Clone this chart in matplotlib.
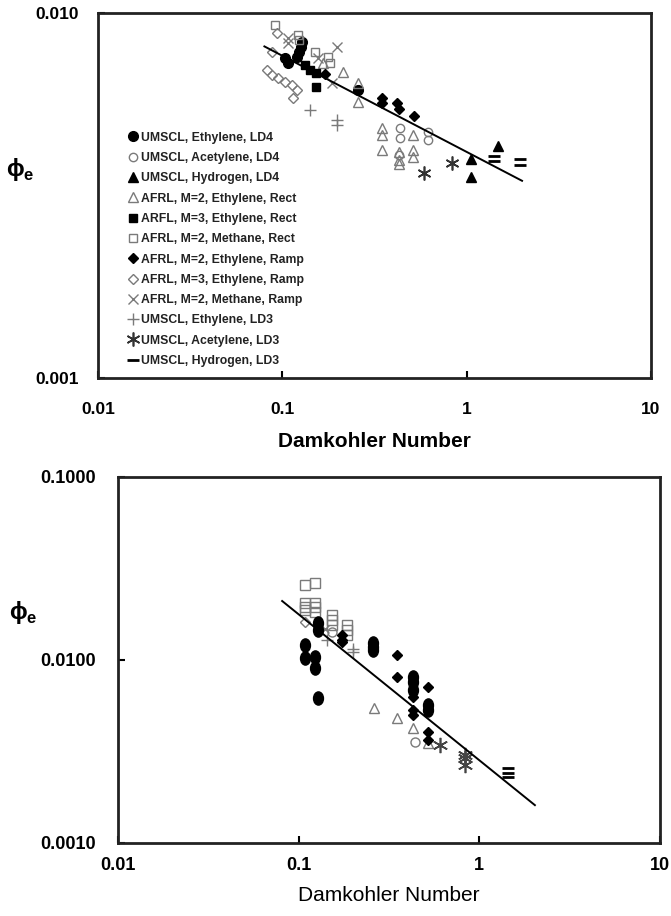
"""Equivalence ratio phi_e vs Damkohler number, two log-log panels."""

import matplotlib

matplotlib.use("Agg")
import matplotlib.pyplot as plt
from matplotlib.path import Path
from matplotlib.ticker import FixedLocator, FuncFormatter, NullLocator
from matplotlib.transforms import Affine2D

plt.rcParams["font.family"] = ["Liberation Sans", "DejaVu Sans"]

# ---- top panel data --------------------------------------------------------
LEGEND_LABELS = [
    "UMSCL, Ethylene, LD4",
    "UMSCL, Acetylene, LD4",
    "UMSCL, Hydrogen, LD4",
    "AFRL, M=2, Ethylene, Rect",
    "ARFL, M=3, Ethylene, Rect",
    "AFRL, M=2, Methane, Rect",
    "AFRL, M=2, Ethylene, Ramp",
    "AFRL, M=3, Ethylene, Ramp",
    "AFRL, M=2, Methane, Ramp",
    "UMSCL, Ethylene, LD3",
    "UMSCL, Acetylene, LD3",
    "UMSCL, Hydrogen, LD3",
]

ETH_LD4_DA = [0.104, 0.107, 0.120, 0.124, 0.128, 0.127, 0.258]
ETH_LD4_PHI = [0.00752, 0.00730, 0.00757, 0.00780, 0.00834, 0.00805, 0.00616]
ACE_LD4_DA = [0.436, 0.436, 0.618, 0.618, 0.431]
ACE_LD4_PHI = [0.00484, 0.00455, 0.00472, 0.00449, 0.00408]
H2_LD4_DA = [1.06, 1.06, 1.48]
H2_LD4_PHI = [0.00398, 0.00356, 0.00433]
M2_ETH_RECT_DA = [0.213, 0.258, 0.258, 0.348, 0.348, 0.348, 0.511, 0.511, 0.511,
                  0.431, 0.431, 0.431, 0.166]
M2_ETH_RECT_PHI = [0.00689, 0.00643, 0.00570, 0.00484, 0.00463, 0.00421, 0.00463,
                   0.00421, 0.00403, 0.00416, 0.00396, 0.00386, 0.00729]
M3_ETH_RECT_DA = [0.133, 0.141, 0.152, 0.152]
M3_ETH_RECT_PHI = [0.00721, 0.00698, 0.00685, 0.00626]
M2_CH4_RECT_DA = [0.0912, 0.122, 0.150, 0.177, 0.181, 0.124]
M2_CH4_RECT_PHI = [0.00927, 0.00870, 0.00782, 0.00757, 0.00729, 0.00845]
M2_ETH_RAMP_DA = [0.171, 0.348, 0.348, 0.419, 0.430, 0.519]
M2_ETH_RAMP_PHI = [0.00681, 0.00585, 0.00567, 0.00567, 0.00546, 0.00523]
M3_ETH_RAMP_DA = [0.0826, 0.0878, 0.0945, 0.103, 0.113, 0.120, 0.114, 0.0935, 0.0885]
M3_ETH_RAMP_PHI = [0.00698, 0.00676, 0.00663, 0.00647, 0.00634, 0.00616, 0.00585,
                   0.00881, 0.00782]
M2_CH4_RAMP_DA = [0.107, 0.107, 0.198, 0.156, 0.186]
M2_CH4_RAMP_PHI = [0.00854, 0.00828, 0.00807, 0.00753, 0.00643]
ETH_LD3_DA = [0.141, 0.198, 0.198]
ETH_LD3_PHI = [0.00542, 0.00509, 0.00493]
ACE_LD3_DA = [0.587, 0.833]
ACE_LD3_PHI = [0.00365, 0.00388]
H2_LD3_DA = [1.41, 1.41, 1.95, 1.95]
H2_LD3_PHI = [0.00405, 0.00393, 0.00398, 0.00383]
FIT_TOP_DA = [0.080, 2.0]
FIT_TOP_PHI = [0.0081, 0.00347]

# ---- bottom panel data -----------------------------------------------------
B_CIRCLE_DA = [0.108, 0.108, 0.123, 0.123, 0.128, 0.128, 0.128, 0.430, 0.430,
               0.430, 0.520, 0.520, 0.258, 0.258, 0.258]
B_CIRCLE_PHI = [0.0121, 0.0103, 0.0104, 0.00904, 0.0062, 0.0159, 0.0146, 0.00807,
                0.00758, 0.00685, 0.00567, 0.00533, 0.0124, 0.0118, 0.0113]
B_DIAMOND_DA = [0.174, 0.174, 0.174, 0.350, 0.350, 0.430, 0.430, 0.430, 0.520,
                0.520, 0.520]
B_DIAMOND_PHI = [0.0137, 0.0128, 0.0125, 0.0106, 0.00807, 0.00628, 0.00533,
                 0.00500, 0.00712, 0.00404, 0.00366]
B_SQUARE_DA = [0.108, 0.123, 0.108, 0.108, 0.108, 0.123, 0.123, 0.123, 0.153,
               0.153, 0.153, 0.185, 0.185, 0.185]
B_SQUARE_PHI = [0.0257, 0.0264, 0.0205, 0.0195, 0.0188, 0.0205, 0.0195, 0.0183,
                0.0176, 0.0166, 0.0155, 0.0155, 0.0146, 0.0137]
B_OCIRCLE_DA = [0.153, 0.441]
B_OCIRCLE_PHI = [0.0142, 0.00356]
B_ODIAMOND_DA = [0.108]
B_ODIAMOND_PHI = [0.0161]
B_TRIANGLE_DA = [0.261, 0.350, 0.430, 0.520]
B_TRIANGLE_PHI = [0.00547, 0.00482, 0.00425, 0.00352]
B_PLUS_DA = [0.144, 0.200, 0.200]
B_PLUS_PHI = [0.0128, 0.0115, 0.0111]
B_X_DA = [0.140]
B_X_PHI = [0.0148]
B_AST_DA = [0.605, 0.832, 0.832, 0.832]
B_AST_PHI = [0.00344, 0.00304, 0.00291, 0.00267]
B_DASH_DA = [1.44, 1.44, 1.44]
B_DASH_PHI = [0.00257, 0.00242, 0.00230]
FIT_BOT_DA = [0.081, 2.03]
FIT_BOT_PHI = [0.0210, 0.00161]

GREY = "#7a7a7a"
ASTERISK = (6, 2, 0)
ELLIPSE = Path.unit_circle().transformed(Affine2D().scale(0.75, 1.0))
PHI_LABEL = "ϕ$_\\mathregular{e}$"


def filled(marker, size):
    return dict(marker=marker, ms=size, mfc="black", mec="black", ls="none")


def hollow(marker, size, color=GREY):
    return dict(marker=marker, ms=size, mfc="none", mec=color, mew=1.0, ls="none")


def stroke(marker, size, color=GREY, mew=1.0):
    return dict(marker=marker, ms=size, color=color, mew=mew, ls="none")


def style_axes(ax, ylim, yfmt, fontsize, xpad, ypad):
    ax.set_xscale("log")
    ax.set_yscale("log")
    ax.set_xlim(0.01, 10)
    ax.set_ylim(*ylim)
    ax.xaxis.set_major_locator(FixedLocator([0.01, 0.1, 1, 10]))
    ax.xaxis.set_minor_locator(NullLocator())
    ax.yaxis.set_minor_locator(NullLocator())
    ax.xaxis.set_major_formatter(FuncFormatter(lambda v, _: f"{v:g}"))
    ax.yaxis.set_major_formatter(FuncFormatter(lambda v, _: yfmt.format(v)))
    ax.tick_params(direction="in", length=5, width=1.5, top=False, right=False,
                   labelsize=fontsize)
    ax.tick_params(axis="x", pad=xpad)
    ax.tick_params(axis="y", pad=ypad)
    for label in ax.get_xticklabels() + ax.get_yticklabels():
        label.set_fontweight("bold")
    for spine in ax.spines.values():
        spine.set_linewidth(2.0)
        spine.set_color("#222222")


def plot_top(fig):
    ax = fig.add_axes([0.146, 0.5873, 0.824, 0.3985])
    series = [
        (ETH_LD4_DA, ETH_LD4_PHI, filled("o", 7)),
        (ACE_LD4_DA, ACE_LD4_PHI, hollow("o", 6)),
        (H2_LD4_DA, H2_LD4_PHI, filled("^", 6.5)),
        (M2_ETH_RECT_DA, M2_ETH_RECT_PHI, hollow("^", 6.5)),
        (M3_ETH_RECT_DA, M3_ETH_RECT_PHI, filled("s", 6)),
        (M2_CH4_RECT_DA, M2_CH4_RECT_PHI, hollow("s", 6)),
        (M2_ETH_RAMP_DA, M2_ETH_RAMP_PHI, filled("D", 5)),
        (M3_ETH_RAMP_DA, M3_ETH_RAMP_PHI, hollow("D", 5)),
        (M2_CH4_RAMP_DA, M2_CH4_RAMP_PHI, stroke("x", 7)),
        (ETH_LD3_DA, ETH_LD3_PHI, stroke("+", 8)),
        (ACE_LD3_DA, ACE_LD3_PHI, stroke(ASTERISK, 10, "#333333", 1.2)),
        (H2_LD3_DA, H2_LD3_PHI, stroke("_", 9, "black", 2.0)),
    ]
    handles = []
    for (da, phi, kw), label in zip(series, LEGEND_LABELS):
        (h,) = ax.plot(da, phi, label=label, **kw)
        handles.append(h)
    ax.plot(FIT_TOP_DA, FIT_TOP_PHI, color="black", lw=1.4)

    style_axes(ax, (0.001, 0.010), "{:.3f}", 12.5, 17, 14)
    ax.set_xlabel("Damkohler Number", fontsize=15, fontweight="bold", labelpad=11)
    ax.set_ylabel(PHI_LABEL, fontsize=17, fontweight="bold", rotation=0, va="center")
    ax.yaxis.set_label_coords(-0.14, 0.57)

    leg = ax.legend(handles=handles, loc="upper left", bbox_to_anchor=(0.055, 0.675),
                    frameon=False, fontsize=8.8, labelspacing=0.68,
                    handlelength=0.7, handletextpad=0.35, borderpad=0,
                    borderaxespad=0)
    for text in leg.get_texts():
        text.set_fontweight("bold")
        text.set_color("#222222")


def plot_bottom(fig):
    ax = fig.add_axes([0.1759, 0.0797, 0.8077, 0.3996])
    ax.plot(B_SQUARE_DA, B_SQUARE_PHI, **hollow("s", 6.5))
    ax.plot(B_OCIRCLE_DA, B_OCIRCLE_PHI, **hollow("o", 6.5))
    ax.plot(B_ODIAMOND_DA, B_ODIAMOND_PHI, **hollow("D", 5))
    ax.plot(B_TRIANGLE_DA, B_TRIANGLE_PHI, **hollow("^", 7))
    ax.plot(B_PLUS_DA, B_PLUS_PHI, **stroke("+", 9))
    ax.plot(B_X_DA, B_X_PHI, **stroke("x", 6))
    ax.plot(B_CIRCLE_DA, B_CIRCLE_PHI, **filled(ELLIPSE, 9.5))
    ax.plot(B_DIAMOND_DA, B_DIAMOND_PHI, **filled("D", 5.5))
    ax.plot(B_AST_DA, B_AST_PHI, **stroke(ASTERISK, 11, "#444444", 1.2))
    ax.plot(B_DASH_DA, B_DASH_PHI, **stroke("_", 9, "black", 2.0))
    ax.plot(FIT_BOT_DA, FIT_BOT_PHI, color="black", lw=1.4)

    style_axes(ax, (0.001, 0.1), "{:.4f}", 13, 10, 16)
    ax.set_xlabel("Damkohler Number", fontsize=15, labelpad=9)
    ax.set_ylabel(PHI_LABEL, fontsize=17, fontweight="bold", rotation=0, va="center")
    ax.yaxis.set_label_coords(-0.175, 0.63)


def main():
    fig = plt.figure(figsize=(6.71, 9.16), dpi=100)
    plot_top(fig)
    plot_bottom(fig)
    fig.savefig("out.png", dpi=100)
    plt.close(fig)


if __name__ == "__main__":
    main()
